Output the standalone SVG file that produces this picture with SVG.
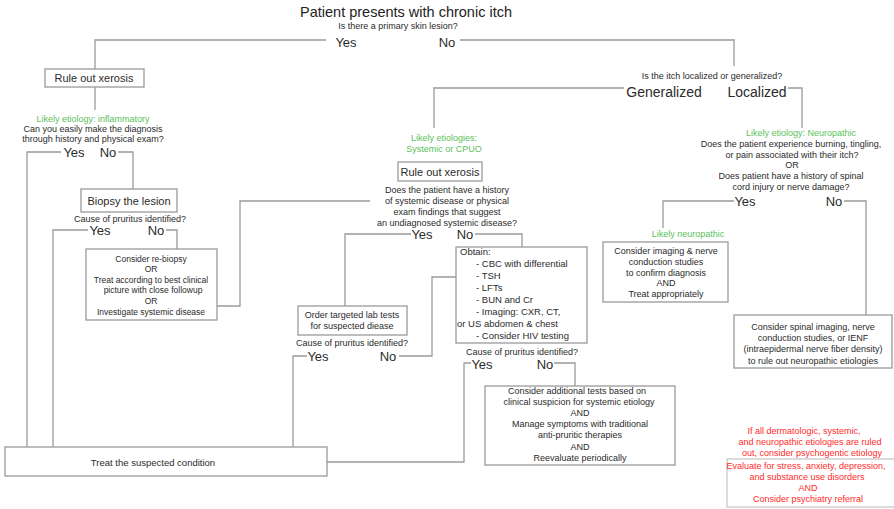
<svg xmlns="http://www.w3.org/2000/svg" width="894" height="509" viewBox="0 0 894 509">
<style>
text{font-family:"Liberation Sans",Arial,sans-serif;fill:#2b2b2b;text-anchor:middle}
.s{font-size:9px}
.m{font-size:9.5px}
.b{font-size:11px}
.yn{font-size:13px}
.big{font-size:14px}
.g{fill:#5cbf5c}
.r{fill:#ff2a2a}
.l{text-anchor:start}
.box{fill:#fff;stroke:#9a9a9a;stroke-width:1.3}
.rbox{fill:#fff;stroke:#c8c8c8;stroke-width:1.3}
.ln{fill:none;stroke:#9a9a9a;stroke-width:1.3}
</style>
<rect width="894" height="509" fill="#fff"/>
<g id="connectors">
<polyline class="ln" points="326,40 95,40 95,69"/>
<polyline class="ln" points="460,40 734,40 734,66"/>
<polyline class="ln" points="95,87 95,110"/>
<polyline class="ln" points="61,152 27,152 27,447"/>
<polyline class="ln" points="118,152 133,152 133,189"/>
<polyline class="ln" points="88,230 53,230 53,447"/>
<polyline class="ln" points="166,230 177,230 177,249"/>
<polyline class="ln" points="217,306 240,306 240,201 370,201"/>
<polyline class="ln" points="624,88 434,88 434,128"/>
<polyline class="ln" points="788,88 802,88 802,128"/>
<polyline class="ln" points="411,234 345,234 345,306"/>
<polyline class="ln" points="475,234 522,234 522,247"/>
<polyline class="ln" points="399,356 432,356 432,277 456,277"/>
<polyline class="ln" points="307,356 293,356 293,447"/>
<polyline class="ln" points="471,363 464,363 464,462 327,462"/>
<polyline class="ln" points="554,363 575,363 575,386"/>
<polyline class="ln" points="734,201 663,201 663,228"/>
<polyline class="ln" points="844,201 866,201 866,315"/>
</g>
<g id="start">
<text class="big" x="406" y="17" style="font-size:14.5px;fill:#222">Patient presents with chronic itch</text>
<text class="s" x="398" y="29">Is there a primary skin lesion?</text>
<text class="yn" x="346" y="47">Yes</text>
<text class="yn" x="447" y="47">No</text>
</g>
<g id="xerosis1">
<rect class="box" x="45" y="69" width="99" height="18"/>
<text class="b" x="94" y="82">Rule out xerosis</text>
</g>
<g id="inflammatory">
<text class="s g" x="93" y="122">Likely etiology: inflammatory</text>
<text class="s" x="93" y="132">Can you easily make the diagnosis</text>
<text class="s" x="93" y="142">through history and physical exam?</text>
<text class="yn" x="74" y="157">Yes</text>
<text class="yn" x="108" y="157">No</text>
</g>
<g id="biopsy">
<rect class="box" x="81" y="189" width="96" height="23"/>
<text class="b" x="129" y="205">Biopsy the lesion</text>
<text class="s" x="130" y="222">Cause of pruritus identified?</text>
<text class="yn" x="100" y="235">Yes</text>
<text class="yn" x="156" y="235">No</text>
</g>
<g id="rebiopsy">
<rect class="box" x="86" y="249" width="131" height="71"/>
<text class="s" x="151" y="262" style="font-size:8.5px">Consider re-biopsy</text>
<text class="s" x="151" y="272" style="font-size:8.5px">OR</text>
<text class="s" x="151" y="283" style="font-size:8.5px">Treat according to best clinical</text>
<text class="s" x="153" y="293" style="font-size:8.5px">picture with close followup</text>
<text class="s" x="151" y="304" style="font-size:8.5px">OR</text>
<text class="s" x="151" y="315" style="font-size:8.5px">Investigate systemic disease</text>
</g>
<g id="treat">
<rect class="box" x="5" y="447" width="322" height="29"/>
<text class="s" x="153" y="466" style="font-size:9.5px">Treat the suspected condition</text>
</g>
<g id="localized-question">
<text class="s" x="712" y="79">Is the itch localized or generalized?</text>
<text class="big" x="664" y="97">Generalized</text>
<text class="big" x="757" y="97">Localized</text>
</g>
<g id="systemic">
<text class="s g" x="444" y="141">Likely etiologies:</text>
<text class="s g" x="444" y="152">Systemic or CPUO</text>
<rect class="box" x="398" y="162" width="84" height="19"/>
<text class="b" x="440" y="176">Rule out xerosis</text>
<text class="s" x="447" y="193">Does the patient have a history</text>
<text class="s" x="447" y="204">of systemic disease or physical</text>
<text class="s" x="447" y="215">exam findings that suggest</text>
<text class="s" x="447" y="226">an undiagnosed systemic disease?</text>
<text class="yn" x="422" y="239">Yes</text>
<text class="yn" x="465" y="239">No</text>
</g>
<g id="order">
<rect class="box" x="298" y="306" width="109" height="29"/>
<text class="s" x="352" y="318">Order targeted lab tests</text>
<text class="s" x="352" y="329">for suspected diease</text>
<text class="s" x="352" y="346">Cause of pruritus identified?</text>
<text class="yn" x="318" y="361">Yes</text>
<text class="yn" x="388" y="361">No</text>
</g>
<g id="obtain">
<rect class="box" x="456" y="247" width="131" height="96"/>
<text class="m l" x="460" y="255">Obtain:</text>
<text class="m l" x="476" y="267">- CBC with differential</text>
<text class="m l" x="476" y="279">- TSH</text>
<text class="m l" x="476" y="291">- LFTs</text>
<text class="m l" x="476" y="303">- BUN and Cr</text>
<text class="m l" x="476" y="315">- Imaging: CXR, CT,</text>
<text class="m l" x="457" y="327">or US abdomen &amp; chest</text>
<text class="m l" x="476" y="339">- Consider HIV testing</text>
<text class="s" x="522" y="355">Cause of pruritus identified?</text>
<text class="yn" x="482" y="369">Yes</text>
<text class="yn" x="545" y="369">No</text>
</g>
<g id="additional">
<rect class="box" x="485" y="386" width="190" height="79"/>
<text class="s" x="577" y="394">Consider additional tests based on</text>
<text class="s" x="579" y="405">clinical suspicion for systemic etiology</text>
<text class="s" x="580" y="416">AND</text>
<text class="s" x="580" y="427">Manage symptoms with traditional</text>
<text class="s" x="580" y="438">anti-pruritic therapies</text>
<text class="s" x="580" y="450">AND</text>
<text class="s" x="580" y="461">Reevaluate periodically</text>
</g>
<g id="neuropathic">
<text class="s g" x="801" y="136">Likely etiology: Neuropathic</text>
<text class="s" x="791" y="147">Does the patient experience burning, tingling,</text>
<text class="s" x="792" y="158">or pain associated with their itch?</text>
<text class="s" x="792" y="168">OR</text>
<text class="s" x="791" y="179">Does patient have a history of spinal</text>
<text class="s" x="791" y="190">cord injury or nerve damage?</text>
<text class="yn" x="745" y="206">Yes</text>
<text class="yn" x="834" y="206">No</text>
</g>
<g id="likely-neuropathic">
<text class="s g" x="688" y="237">Likely neuropathic</text>
<rect class="box" x="603" y="242" width="125" height="60"/>
<text class="s" x="666" y="254">Consider imaging &amp; nerve</text>
<text class="s" x="666" y="265">conduction studies</text>
<text class="s" x="666" y="276">to confirm diagnosis</text>
<text class="s" x="666" y="286">AND</text>
<text class="s" x="666" y="297">Treat appropriately</text>
</g>
<g id="spinal">
<rect class="box" x="734" y="315" width="158" height="53"/>
<text class="s" x="813" y="330">Consider spinal imaging, nerve</text>
<text class="s" x="813" y="341">conduction studies, or IENF</text>
<text class="s" x="813" y="352">(intraepidermal nerve fiber density)</text>
<text class="s" x="813" y="364">to rule out neuropathic etiologies</text>
</g>
<g id="psychogenic">
<text class="s r" x="804" y="434">If all dermatologic, systemic,</text>
<text class="s r" x="810" y="445">and neuropathic etiologies are ruled</text>
<text class="s r" x="812" y="456">out, consider psychogentic etiology</text>
<rect class="rbox" x="727" y="459" width="180" height="48"/>
<text class="s r" x="806" y="469">Evaluate for stress, anxiety, depression,</text>
<text class="s r" x="807" y="480">and substance use disorders</text>
<text class="s r" x="808" y="491">AND</text>
<text class="s r" x="808" y="502">Consider psychiatry referral</text>
</g>
</svg>
